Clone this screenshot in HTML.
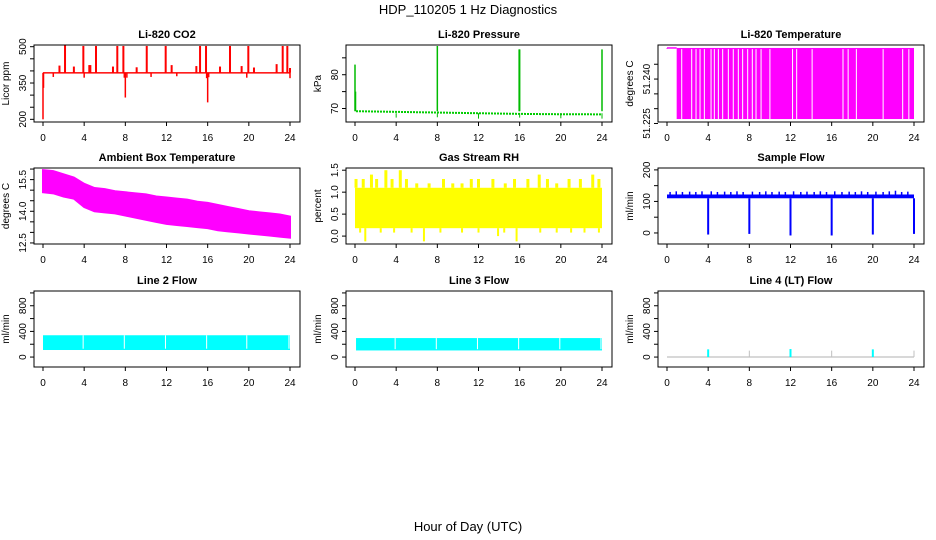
<!DOCTYPE html>
<html><head><meta charset="utf-8"><style>
html,body{margin:0;padding:0;background:#fff}
svg{display:block}
text{font-family:"Liberation Sans",Arial,sans-serif;fill:#000}
.ttl{font-size:11px;font-weight:bold}
.tk{font-size:10px}
</style></head><body>
<svg id="c" width="936" height="540" viewBox="0 0 936 540">
<text x="468" y="14" text-anchor="middle" font-size="13">HDP_110205  1 Hz Diagnostics</text>
<text x="468" y="531" text-anchor="middle" font-size="13">Hour of Day (UTC)</text>
</svg>
<script>
// ---- data ----
var xTicks = [0,4,8,12,16,20,24];
// CO2
var co2Base = 392;
var co2SpikeHours = [2.14,3.92,5.15,7.22,7.81,10.08,11.92,15.26,15.84,18.17,19.95,23.29,23.74];
var co2SpikeVals  = [505,503,503,503,503,503,503,503,503,503,503,503,503];
var co2MidHours = [1.6,3.0,4.5,4.6,6.8,9.1,12.5,14.9,17.2,19.3,20.5,22.7,24.0];
var co2MidVals  = [422,418,424,424,418,415,424,420,418,420,414,428,412];
var co2DipHours = [0.0,0.05,1.0,4.0,7.9,8.0,8.15,10.5,13.0,15.9,16.0,16.1,19.8,24.0];
var co2DipVals  = [200,330,375,372,372,290,372,375,378,370,270,374,372,370];
// Pressure
var presHours = [0.1,2,4,6,8.1,10,12,14,16.1,18,20,22,23.9];
var presVals  = [69.2,69.1,69.0,68.9,68.8,68.7,68.6,68.5,68.4,68.35,68.3,68.3,68.25];
var presSpikeHours = [0.0,0.05,8.0,16.0,15.95,24.0];
var presSpikeVals  = [83,75,88.5,87.5,87.5,87.5];
var presDipHours = [4.0,8.0,12.0,16.0,20.0,24.0];
var presDipVals  = [67.3,67.4,67.0,67.3,67.1,67.0];
// Li-820 temperature
var tempLo = 51.2265, tempHi = 51.2505, tempStart = 0.94, tempEnd = 24.0;
var tempGapHours = [1.43,2.40,2.82,3.21,3.63,4.28,4.6,4.99,5.41,5.96,6.44,6.93,7.35,7.84,8.29,8.65,9.14,10.0,12.2,12.6,14.1,17.1,17.6,18.4,21.0,22.9,23.5];
// Ambient box temperature (hourly band)
var ambTop = [15.95,15.9,15.75,15.6,15.3,15.1,15.05,14.95,14.9,14.85,14.8,14.7,14.65,14.6,14.55,14.45,14.4,14.3,14.2,14.1,14.0,13.95,13.9,13.85,13.75];
var ambBot = [14.9,14.85,14.7,14.6,14.2,14.0,13.95,13.9,13.8,13.7,13.6,13.5,13.4,13.35,13.3,13.25,13.2,13.1,13.05,13.0,12.95,12.9,12.85,12.8,12.75];
// Gas stream RH
var rhTop = 1.1, rhBot = 0.18;
var rhSpikeHours = [0.1,0.8,1.6,2.1,3.0,3.6,4.4,5.0,6.0,7.2,8.6,9.5,10.4,11.3,12.0,13.4,14.6,15.5,16.8,17.9,18.7,19.6,20.8,21.9,23.1,23.7];
var rhSpikeVals  = [1.3,1.3,1.4,1.3,1.5,1.3,1.5,1.3,1.2,1.2,1.3,1.2,1.2,1.3,1.3,1.3,1.2,1.3,1.3,1.4,1.3,1.2,1.3,1.3,1.4,1.3];
var rhDipHours = [0.5,1.0,2.5,3.8,5.5,6.7,8.3,10.4,12.0,13.9,14.5,15.7,18.0,19.6,21.0,22.3,23.7];
var rhDipVals  = [0.08,-0.12,0.08,0.08,0.08,-0.12,0.08,0.08,0.08,0.0,0.08,-0.12,0.08,0.08,0.08,0.08,0.08];
// Sample flow
var sfTop = 122, sfBot = 110;
var sfTeethHours = [0.3,0.9,1.5,2.2,2.8,3.4,4.3,4.9,5.6,6.2,6.8,7.4,8.3,9.0,9.6,10.2,10.9,11.5,12.3,13.0,13.6,14.3,14.9,15.5,16.3,17.0,17.7,18.3,18.9,19.5,20.3,21.0,21.6,22.2,22.8,23.4];
var sfTeethVals  = [130,132,130,131,130,132,132,130,131,130,132,130,131,130,132,130,131,130,132,130,131,130,132,130,132,130,131,130,132,130,131,130,132,134,130,131];
var sfDropHours = [4.0,8.0,12.0,16.0,20.0,24.0];
var sfDropVals  = [-5,-3,-8,-8,-5,-3];
// Line 2 / 3 flow
var l2Top = 340, l2Bot = 110;
var l2GapHours = [3.9,7.9,11.9,15.9,19.8,23.9];
var l3Top = 296, l3Bot = 103;
var l3GapHours = [3.9,7.9,11.9,15.9,19.9,23.9];
// Line 4 flow
var l4SpikeHours = [4.0,8.0,12.0,16.0,20.0,24.0];
var l4SpikeVals  = [120,100,125,100,120,100];
var l4Base = 0;

// ---- layout ----
var NS = "http://www.w3.org/2000/svg";
var svg = document.getElementById('c');
var cols = [{l:34,r:300,x0:43,x24:290},{l:346,r:612,x0:355,x24:602},{l:658,r:924,x0:667,x24:914}];
var rows = [{t:45,b:122},{t:168,b:244},{t:291,b:367}];
function mk(tag, attrs, parent){
  var e = document.createElementNS(NS, tag);
  for (var k in attrs) e.setAttribute(k, attrs[k]);
  (parent||svg).appendChild(e);
  return e;
}
function panel(ci, ri, title, ylab, ymin, ymax, yTicks, yLabels, name){
  var c = cols[ci], r = rows[ri];
  var g = mk('g', {});
  
  
  var P = {g:g,
    x:function(h){return c.x0 + (c.x24-c.x0)*h/24;},
    y:function(v){return r.b - (v-ymin)/(ymax-ymin)*(r.b-r.t);}, c:c, r:r};
  var t = mk('text', {x:(c.l+c.r)/2, y:r.t-7, 'text-anchor':'middle', 'class':'ttl'}, g);
  t.textContent = title;
  
  
  var yl = mk('text', {x:0, y:0, 'text-anchor':'middle', 'class':'tk', transform:'translate('+(c.l-25)+','+((r.t+r.b)/2)+') rotate(-90)'}, g);
  yl.textContent = ylab;
  
  
  var bx = mk('rect', {x:c.l, y:r.t, width:c.r-c.l, height:r.b-r.t, fill:'none', stroke:'#000', 'stroke-width':1}, g);
  
  
  xTicks.forEach(function(h){
    var X = P.x(h);
    mk('line', {x1:X, x2:X, y1:r.b, y2:r.b+4, stroke:'#000'}, g);
    var tl = mk('text', {x:X, y:r.b+19, 'text-anchor':'middle', 'class':'tk'}, g);
    tl.textContent = h;
    
    
  });
  yTicks.forEach(function(v, i){
    var Y = P.y(v);
    mk('line', {x1:c.l-4, x2:c.l, y1:Y, y2:Y, stroke:'#000'}, g);
    if (yLabels[i] !== '') {
      var tl = mk('text', {x:0, y:0, 'text-anchor':'middle', 'class':'tk', transform:'translate('+(c.l-8)+','+Y+') rotate(-90)'}, g);
      tl.textContent = yLabels[i];
      
      
    }
  });
  var clip = 'clip' + ci + ri;
  var cp = mk('clipPath', {id:clip}, g);
  mk('rect', {x:c.l, y:r.t, width:c.r-c.l, height:r.b-r.t}, cp);
  P.d = mk('g', {'clip-path':'url(#'+clip+')'}, g);
  
  
  return P;
}
function vline(P, h, v1, v2, col, w){
  return mk('line', {x1:P.x(h), x2:P.x(h), y1:P.y(v1), y2:P.y(v2), stroke:col, 'stroke-width':w||1.5}, P.d);
}
function band(P, h1, h2, v1, v2, col){
  return mk('rect', {x:P.x(h1), y:P.y(v2), width:P.x(h2)-P.x(h1), height:P.y(v1)-P.y(v2), fill:col}, P.d);
}

// CO2
var p = panel(0,0,'Li-820 CO2','Licor ppm',189,507,[200,250,300,350,400,450,500],['200','','','350','','','500'],'co2');
band(p,0,24,co2Base-3,co2Base+3,'#ff0000');
co2SpikeHours.forEach(function(h,i){ vline(p,h,co2Base,co2SpikeVals[i],'#ff0000',2); });
co2MidHours.forEach(function(h,i){ vline(p,h,co2Base,co2MidVals[i],'#ff0000',2); });
co2DipHours.forEach(function(h,i){ vline(p,h,co2Base,co2DipVals[i],'#ff0000',1.5); });

// Pressure
p = panel(1,0,'Li-820 Pressure','kPa',66,88.8,[70,75,80,85],['70','','80',''],'pressure');
var presPts = presHours.map(function(h,i){return p.x(h)+','+p.y(presVals[i]);}).join(' ');
mk('polyline',{points:presPts,fill:'none',stroke:'#00cc00','stroke-width':2,'stroke-dasharray':'2,1'},p.d);
presSpikeHours.forEach(function(h,i){ vline(p,h,presVals[0],presSpikeVals[i],'#00bb00',1.5); });
presDipHours.forEach(function(h,i){ vline(p,h,68.6,presDipVals[i],'#00bb00',1); });

// Li-820 temp
p = panel(2,0,'Li-820 Temperature','degrees C',51.2255,51.2515,[51.225,51.230,51.235,51.240,51.245],['51.225','','','51.240',''],'li820-temp');
vline(p,0,tempHi,tempHi-0.0003,'#ff00ff',1);
mk('line',{x1:p.x(0),x2:p.x(tempStart),y1:p.y(tempHi),y2:p.y(tempHi),stroke:'#ff00ff','stroke-width':1.5},p.d);
band(p,tempStart,tempEnd,tempLo,tempHi,'#ff00ff');
tempGapHours.forEach(function(h){ vline(p,h,tempLo,tempHi-0.0004,'#ffffff',1); });

// Ambient
p = panel(0,1,'Ambient Box Temperature','degrees C',12.45,16.05,[12.5,13,13.5,14,14.5,15,15.5,16],['12.5','','','14.0','','','15.5',''],'ambient-temp');
var ambTopPts = ambTop.map(function(v,i){return p.x(i)+','+p.y(v);});
var ambBotPts = ambBot.map(function(v,i){return p.x(i)+','+p.y(v);}).reverse();
mk('polygon',{points:ambTopPts.concat(ambBotPts).join(' '),fill:'#ff00ff',stroke:'#ff00ff','stroke-width':2},p.d);

// RH
p = panel(1,1,'Gas Stream RH','percent',-0.18,1.55,[0,0.5,1,1.5],['0.0','0.5','1.0','1.5'],'gas-rh');
band(p,0,24,rhBot,rhTop,'#ffff00');
rhSpikeHours.forEach(function(h,i){ vline(p,h,rhTop,rhSpikeVals[i],'#ffff00',3); });
rhDipHours.forEach(function(h,i){ vline(p,h,rhBot,rhDipVals[i],'#ffff00',2); });

// Sample flow
p = panel(2,1,'Sample Flow','ml/min',-35,206,[0,50,100,150,200],['0','','100','','200'],'sample-flow');
band(p,0,24,sfBot,sfTop,'#0000ff');
sfTeethHours.forEach(function(h,i){ vline(p,h,sfTop,sfTeethVals[i],'#0000ff',1.5); });
sfDropHours.forEach(function(h,i){ vline(p,h,sfBot,sfDropVals[i],'#0000ff',2); });

// Line 2
p = panel(0,2,'Line 2 Flow','ml/min',-155,1030,[0,200,400,600,800,1000],['0','','400','','800',''],'line2-flow');
band(p,0,24,l2Bot,l2Top,'#00ffff');
l2GapHours.forEach(function(h){ vline(p,h,l2Bot+20,l2Top,'#ffffff',1); });

// Line 3
p = panel(1,2,'Line 3 Flow','ml/min',-155,1030,[0,200,400,600,800,1000],['0','','400','','800',''],'line3-flow');
band(p,0.1,24,l3Bot,l3Top,'#00ffff');
l3GapHours.forEach(function(h){ vline(p,h,l3Bot+20,l3Top,'#ffffff',1); });

// Line 4
p = panel(2,2,'Line 4 (LT) Flow','ml/min',-155,1030,[0,200,400,600,800,1000],['0','','400','','800',''],'line4-flow');
mk('line',{x1:p.x(0),x2:p.x(24),y1:p.y(l4Base),y2:p.y(l4Base),stroke:'#b0b0b0','stroke-width':1},p.d);
l4SpikeHours.forEach(function(h,i){ vline(p,h,l4Base,l4SpikeVals[i],i%2===0?'#00ffff':'#c0c0c0',i%2===0?2:1); });
</script>
</body></html>
